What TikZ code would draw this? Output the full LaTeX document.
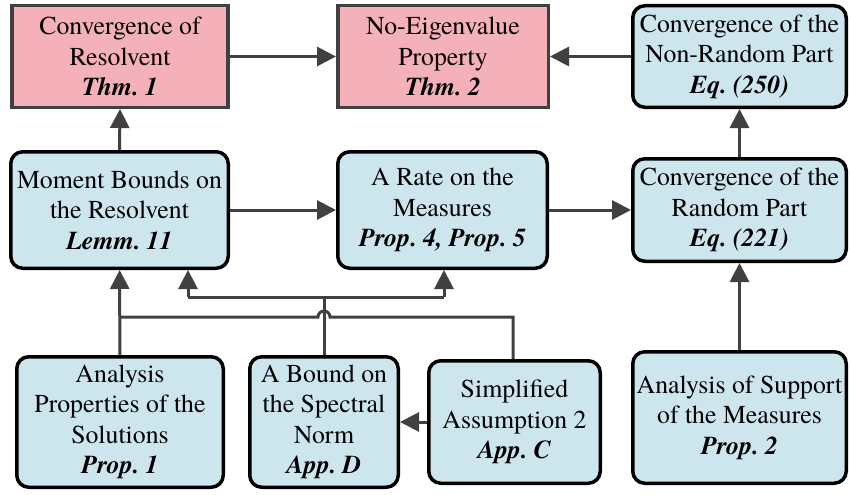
\documentclass[tikz,border=0pt]{standalone}
\usepackage{fontspec}
\setmainfont{texgyretermes}[Extension=.otf,UprightFont=*-regular,BoldFont=*-bold,ItalicFont=*-italic,BoldItalicFont=*-bolditalic]
\usetikzlibrary{arrows.meta}
\definecolor{pinkf}{HTML}{F4B1BA}
\definecolor{bluef}{HTML}{CDE6EE}
\definecolor{lineg}{HTML}{404040}
\newcommand{\rf}[1]{\textbf{\textit{#1}}}
\frenchspacing
\begin{document}
\begin{tikzpicture}[x=1pt,y=-1pt,
  base/.style={align=center,inner sep=0pt,font=\fontsize{25.8}{30.5}\selectfont,line width=3.5pt},
  pbox/.style={base,draw=lineg,fill=pinkf},
  bbox/.style={base,draw=black,fill=bluef,rounded corners=12pt},
  sz/.style 2 args={minimum width=#1,minimum height=#2},
  arr/.style={draw=lineg,line width=3pt,-{Triangle[length=19pt,width=19pt]}},
  ln/.style={draw=lineg,line width=3pt}]
\useasboundingbox (0,0) rectangle (851,495);
% top row
\node[pbox,sz={216pt}{101.5pt}] (n1) at (120,56.5) {Convergence of\\Resolvent\\\rf{Thm. 1}};
\node[pbox,sz={210.5pt}{101.5pt}] (n2) at (443,56.5) {No-Eigenvalue\\Property\\\rf{Thm. 2}};
\node[bbox,sz={213.5pt}{101.5pt}] (n3) at (739.5,56.5) {Convergence of the\\Non-Random Part\\\rf{Eq. (250)}};
% middle row
\node[bbox,sz={217.5pt}{116.5pt}] (n4) at (119.5,210) {Moment Bounds on\\the Resolvent\\\rf{Lemm. 11}};
\node[bbox,sz={209.5pt}{116.5pt}] (n5) at (442.5,210) {A Rate on the\\Measures\\\rf{Prop. 4, Prop. 5}};
\node[bbox,sz={213.5pt}{102.5pt}] (n6) at (739.5,210) {Convergence of the\\Random Part\\\rf{Eq. (221)}};
% bottom row
\node[bbox,sz={206.5pt}{130.5pt}] (n7) at (120,422) {Analysis\\Properties of the\\Solutions\\\rf{Prop. 1}};
\node[bbox,sz={148.5pt}{130.5pt}] (n8) at (324,422) {A Bound on\\the Spectral\\Norm\\\rf{App. D}};
\node[bbox,sz={171.5pt}{122.5pt}] (n9) at (514.5,422) {Simplified\\Assumption 2\\\rf{App. C}};
\node[bbox,sz={213.5pt}{131.5pt}] (n10) at (739.5,417.5) {Analysis of Support\\of the Measures\\\rf{Prop. 2}};
% coordinates
\coordinate (a4) at (188,270);
\coordinate (a5) at (444,270);
\coordinate (k8) at (324,297);
\coordinate (k4) at (188,297);
\coordinate (k5) at (444,297);
\coordinate (k9) at (513,317);
\coordinate (m7) at (120,317);
\coordinate (jr) at (330,317);
% connectors
\draw[arr] (n1) -- (n2);
\draw[arr] (n3) -- (n2);
\draw[arr] (n4.north) -- (n1.south);
\draw[arr] (n6) -- (n3);
\draw[arr] (n4) -- (n5);
\draw[arr] (n5) -- (n6);
\draw[arr] (n10) -- (n6);
\draw[arr] (n7) -- (n4);
\draw[arr] (n9) -- (n8);
\draw[ln] (n9.north -| k9) -- (k9) -- (jr) arc[start angle=0,end angle=-180,radius=6] -- (m7);
\draw[ln] (n8.north) -- (k8);
\draw[ln] (k4) -- (k5);
\draw[arr] (k4) -- (a4);
\draw[arr] (k5) -- (a5);
\end{tikzpicture}
\end{document}
